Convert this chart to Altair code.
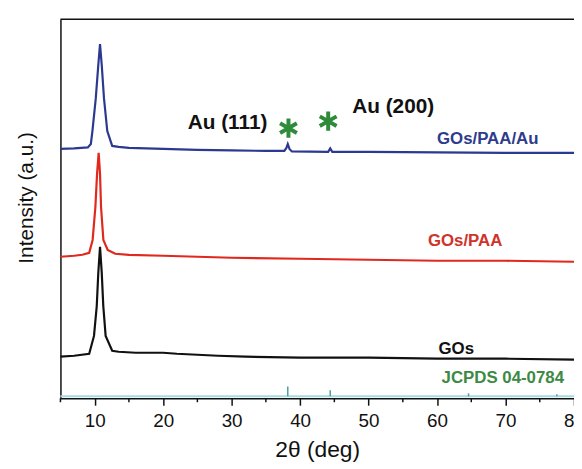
import altair as alt
import pandas as pd

# ---- data (intensity in arbitrary units) ----
blue_x = [5, 7, 9, 9.44, 9.67, 10.16, 10.53, 10.78, 11.03, 11.36, 11.84, 12.56, 13.5, 15, 20, 25, 30, 35,
          37.7, 38.0, 38.2, 38.45, 38.8, 44.1, 44.4, 44.7, 50, 60, 70, 80]
blue_y = [252, 252.5, 253.5, 257, 270, 303, 337, 358, 337, 303, 270, 255, 254, 253, 252, 251, 250.5, 250,
          250, 253, 257, 252, 249.5, 249, 252.5, 249, 249, 248.5, 248, 248]

red_x = [5, 7, 8.2, 9.2, 9.7, 10.1, 10.35, 10.58, 10.78, 10.93, 11.27, 11.9, 13, 15, 20, 30, 40, 50, 60, 70, 80]
red_y = [143, 144, 145, 147, 160, 193, 227, 248, 227, 193, 160, 150, 146, 145, 144, 142, 141, 140, 139, 139, 138]

black_x = [5, 7, 9.2, 9.9, 10.3, 10.53, 10.78, 11.03, 11.26, 11.6, 12.56, 13.5, 16, 20, 22, 25, 28, 32,
           40, 50, 60, 70, 80]
black_y = [42, 43, 45, 63, 93, 127, 153, 127, 93, 63, 48, 47, 46, 46, 45, 44, 43, 42, 41, 41, 40, 40, 39]

series_names = ["GOs/PAA/Au", "GOs/PAA", "GOs"]
series_colors = ["#2b3990", "#e0281d", "#111111"]

jcpds_x = [38.2, 44.4, 64.6, 77.5]
jcpds_h = [10, 6, 3, 2]
jcpds_base = 2

star_x = [38.3, 44.1]
star_y = [273, 280]

labels = ["GOs/PAA/Au", "GOs/PAA", "GOs", "JCPDS 04-0784", "Au (111)", "Au (200)"]
label_x = [67.4, 64.1, 62.8, 69.6, 29.4, 53.6]
label_y = [262, 159, 50, 20, 278, 294]
label_color = ["#2f3b8c", "#d0332a", "#111111", "#3d8a45", "#111111", "#111111"]
label_size = [17, 17, 17, 17, 21, 21]

major_ticks = list(range(10, 90, 10))
minor_ticks = list(range(5, 80, 10))

# ---- frames ----
curves = pd.concat([
    pd.DataFrame({"x": blue_x, "y": blue_y, "s": series_names[0]}),
    pd.DataFrame({"x": red_x, "y": red_y, "s": series_names[1]}),
    pd.DataFrame({"x": black_x, "y": black_y, "s": series_names[2]}),
])
jc = pd.DataFrame({"x": jcpds_x, "y": [jcpds_base] * len(jcpds_x),
                   "y2": [jcpds_base + h for h in jcpds_h]})
jc_base = pd.DataFrame({"x": [5], "x2": [80], "y": [jcpds_base]})
stars = pd.DataFrame({"x": star_x, "y": star_y})
texts = pd.DataFrame({"t": labels, "x": label_x, "y": label_y, "c": label_color, "sz": label_size})
minor = pd.DataFrame({"x": minor_ticks})

W, H = 519, 383
FONT = "Liberation Sans"

xscale = alt.Scale(domain=[5, 80], nice=False, zero=False)
yscale = alt.Scale(domain=[0, 383], nice=False, zero=False)

xaxis = alt.Axis(
    values=major_ticks,
    tickSize=7, tickColor="#111111", tickWidth=1.5, domainColor="#111111", domainWidth=1.5,
    labelFont=FONT, labelFontSize=19, labelColor="#111111", labelPadding=7,
    labelFlush=False, labelOverlap=False, grid=False,
    title="2θ (deg)", titleFont=FONT, titleFontSize=23, titleFontWeight="normal",
    titleColor="#111111", titlePadding=8,
)
yaxis = alt.Axis(
    labels=False, ticks=False, grid=False, domainColor="#111111", domainWidth=1.5,
    title="Intensity (a.u.)", titleFont=FONT, titleFontSize=21, titleFontWeight="normal",
    titleColor="#111111", titlePadding=24, titleY=180,
)

lines = alt.Chart(curves).mark_line(strokeWidth=2.2).encode(
    x=alt.X("x:Q", scale=xscale, axis=xaxis),
    y=alt.Y("y:Q", scale=yscale, axis=yaxis),
    color=alt.Color("s:N", scale=alt.Scale(domain=series_names, range=series_colors), legend=None),
    detail="s:N",
)

minor_marks = alt.Chart(minor).mark_rule(color="#111111", strokeWidth=1.5).encode(
    x="x:Q", y=alt.value(H), y2=alt.value(H + 4)
)

base_rule = alt.Chart(jc_base).mark_rule(color="#a6dbe4", strokeWidth=2).encode(
    x="x:Q", x2="x2:Q", y="y:Q"
)
sticks = alt.Chart(jc).mark_rule(color="#4e9ca6", strokeWidth=1.5).encode(
    x="x:Q", y="y:Q", y2="y2:Q"
)

star_path = "M0,-1L0,1M-0.87,-0.5L0.87,0.5M-0.87,0.5L0.87,-0.5"
star_marks = alt.Chart(stars).mark_point(
    shape=star_path, filled=False, color="#2e8b3a", strokeWidth=4, size=380, opacity=1
).encode(x="x:Q", y="y:Q")

text_marks = alt.Chart(texts).mark_text(font=FONT, fontWeight="bold", align="center", baseline="middle").encode(
    x="x:Q", y="y:Q", text="t:N",
    color=alt.Color("c:N", scale=None),
    size=alt.Size("sz:Q", scale=None),
)

top_border = alt.Chart(pd.DataFrame({"a": [0]})).mark_rule(color="#111111", strokeWidth=1.5).encode(
    x=alt.value(0), x2=alt.value(W), y=alt.value(0)
)

chart = alt.layer(lines, minor_marks, base_rule, sticks, star_marks, text_marks, top_border).properties(
    width=W, height=H,
    autosize=alt.AutoSizeParams(type="none"),
    padding={"left": 53, "top": 9, "right": 0, "bottom": 62},
    background="white",
).configure_view(stroke=None)

chart.save("out.html", embed_options={"renderer": "svg", "actions": False})
